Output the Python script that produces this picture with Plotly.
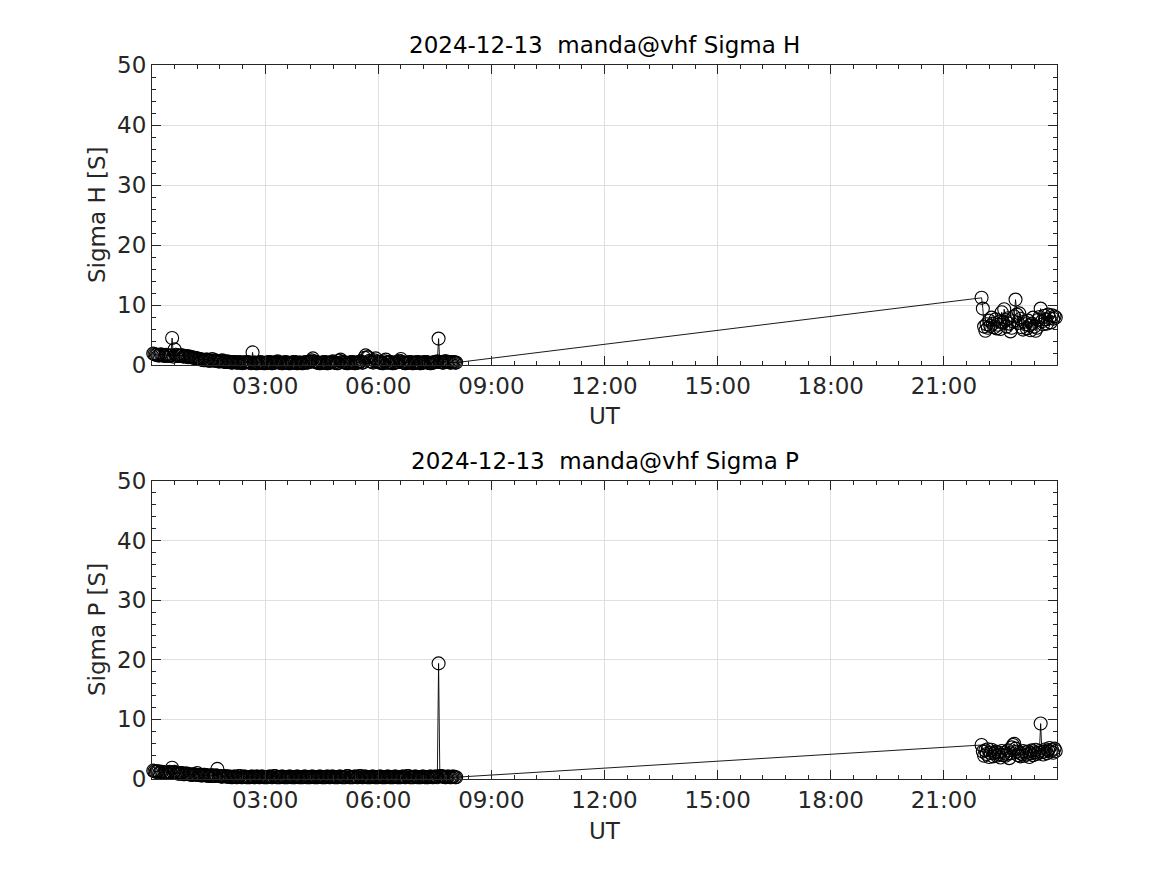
import plotly.graph_objects as go

DAY = "2024-12-13"
NEXT_DAY = "2024-12-14"

# sample times, minutes after 00:00 UT
morning_minutes = [
    2, 4, 6, 8, 10, 12, 14, 16, 18, 20,
    22, 24, 26, 28, 30, 32, 34, 36, 38, 40,
    42, 44, 46, 48, 50, 52, 54, 56, 58, 60,
    62, 64, 66, 68, 70, 72, 74, 76, 78, 80,
    82, 84, 86, 88, 90, 92, 94, 96, 98, 100,
    102, 104, 106, 108, 110, 112, 114, 116, 118, 120,
    122, 124, 126, 128, 130, 132, 134, 136, 138, 140,
    142, 144, 146, 148, 150, 152, 154, 156, 158, 160,
    162, 164, 166, 168, 170, 172, 174, 176, 178, 180,
    182, 184, 186, 188, 190, 192, 194, 196, 198, 200,
    202, 204, 206, 208, 210, 212, 214, 216, 218, 220,
    222, 224, 226, 228, 230, 232, 234, 236, 238, 240,
    242, 244, 246, 248, 250, 252, 254, 256, 258, 260,
    262, 264, 266, 268, 270, 272, 274, 276, 278, 280,
    282, 284, 286, 288, 290, 292, 294, 296, 298, 300,
    302, 304, 306, 308, 310, 312, 314, 316, 318, 320,
    322, 324, 326, 328, 330, 332, 334, 336, 338, 340,
    342, 344, 346, 348, 350, 352, 354, 356, 358, 360,
    362, 364, 366, 368, 370, 372, 374, 376, 378, 380,
    382, 384, 386, 388, 390, 392, 394, 396, 398, 400,
    402, 404, 406, 408, 410, 412, 414, 416, 418, 420,
    422, 424, 426, 428, 430, 432, 434, 436, 438, 440,
    442, 444, 446, 448, 450, 452, 454, 456, 458, 460,
    462, 464, 466, 468, 470, 472, 474, 476, 478, 480,
    482, 484,
]

evening_minutes = [
    1320, 1322, 1324, 1326, 1328, 1330, 1332, 1334, 1336, 1338,
    1340, 1342, 1344, 1346, 1348, 1350, 1352, 1354, 1356, 1358,
    1360, 1362, 1364, 1366, 1368, 1370, 1372, 1374, 1376, 1378,
    1380, 1382, 1384, 1386, 1388, 1390, 1392, 1394, 1396, 1398,
    1400, 1402, 1404, 1406, 1408, 1410, 1412, 1414, 1416, 1418,
    1420, 1422, 1424, 1426, 1428, 1430, 1432, 1434, 1436, 1438,
]

sigma_h_morning = [
    1.9, 1.8, 1.7, 1.7, 1.6, 1.6, 1.8, 1.7, 1.6, 1.5,
    1.7, 1.6, 1.5, 1.5, 1.6, 4.5, 1.4, 2.6, 1.7, 1.6,
    1.5, 1.5, 1.6, 1.6, 1.4, 1.5, 1.4, 1.5, 1.3, 1.4,
    1.3, 1.3, 1.2, 1.2, 1.1, 1.1, 1.0, 1.0, 0.9, 0.9,
    0.8, 0.8, 0.9, 0.9, 0.7, 0.7, 0.8, 1.0, 0.7, 0.8,
    0.7, 0.7, 0.6, 0.6, 0.7, 0.8, 0.6, 0.5, 0.5, 0.6,
    0.5, 0.5, 0.4, 0.4, 0.5, 0.5, 0.4, 0.4, 0.4, 0.5,
    0.4, 0.3, 0.4, 0.4, 0.5, 0.5, 0.4, 0.4, 0.3, 2.1,
    0.4, 0.4, 0.3, 0.3, 0.4, 0.5, 0.4, 0.4, 0.3, 0.3,
    0.4, 0.4, 0.5, 0.5, 0.3, 0.3, 0.4, 0.4, 0.5, 0.6,
    0.4, 0.4, 0.3, 0.3, 0.4, 0.5, 0.4, 0.4, 0.3, 0.3,
    0.4, 0.4, 0.5, 0.5, 0.3, 0.3, 0.4, 0.4, 0.3, 0.3,
    0.4, 0.5, 0.4, 0.4, 0.5, 0.6, 0.8, 1.1, 0.6, 0.5,
    0.4, 0.4, 0.3, 0.3, 0.4, 0.4, 0.5, 0.5, 0.3, 0.3,
    0.4, 0.4, 0.5, 0.6, 0.4, 0.4, 0.3, 0.3, 0.7, 0.9,
    0.5, 0.5, 0.4, 0.4, 0.3, 0.3, 0.4, 0.4, 0.5, 0.5,
    0.3, 0.3, 0.4, 0.4, 0.5, 0.6, 0.4, 0.4, 1.2, 1.6,
    1.3, 1.3, 0.7, 0.6, 0.5, 0.4, 0.8, 1.1, 0.6, 0.5,
    0.4, 0.4, 0.3, 0.3, 0.6, 0.9, 0.4, 0.4, 0.5, 0.5,
    0.3, 0.3, 0.4, 0.4, 0.5, 0.5, 0.7, 1.0, 0.5, 0.4,
    0.3, 0.3, 0.4, 0.4, 0.5, 0.5, 0.3, 0.3, 0.4, 0.4,
    0.5, 0.5, 0.3, 0.3, 0.4, 0.4, 0.5, 0.5, 0.4, 0.4,
    0.3, 0.3, 0.4, 0.4, 0.5, 0.5, 0.6, 4.4, 0.5, 0.5,
    0.4, 0.4, 0.6, 0.6, 0.5, 0.5, 0.4, 0.4, 0.5, 0.5,
    0.4, 0.4,
]

sigma_h_evening = [
    11.2, 9.4, 6.4, 5.7, 6.8, 6.2, 7.4, 6.5, 7.9, 6.9,
    6.3, 7.6, 6.1, 6.7, 7.2, 6.0, 8.8, 7.1, 9.3, 7.5,
    6.4, 7.8, 6.9, 5.6, 6.2, 7.3, 8.1, 10.9, 8.4, 7.0,
    8.6, 7.7, 6.3, 5.9, 7.2, 6.8, 6.1, 7.4, 6.6, 5.8,
    6.9, 7.9, 6.4, 5.7, 6.2, 7.5, 8.0, 9.4, 7.3, 6.8,
    8.2, 7.6, 6.9, 8.4, 7.8, 7.1, 8.3, 7.7, 8.1, 7.9,
]

sigma_p_morning = [
    1.4, 1.3, 1.2, 1.3, 1.3, 1.1, 1.2, 1.2, 1.0, 1.1,
    1.1, 1.0, 1.1, 1.2, 1.0, 1.9, 1.1, 1.2, 1.0, 1.0,
    0.9, 0.9, 1.0, 1.0, 0.8, 0.8, 0.9, 0.9, 0.8, 0.8,
    0.7, 0.7, 0.8, 0.8, 0.7, 1.0, 0.7, 0.7, 0.6, 0.6,
    0.7, 0.7, 0.6, 0.6, 0.5, 0.5, 0.6, 0.6, 0.5, 0.5,
    0.6, 1.7, 0.5, 0.5, 0.4, 0.4, 0.5, 0.5, 0.4, 0.4,
    0.4, 0.4, 0.3, 0.3, 0.4, 0.4, 0.3, 0.3, 0.5, 0.5,
    0.3, 0.3, 0.4, 0.4, 0.3, 0.3, 0.3, 0.3, 0.4, 0.4,
    0.3, 0.3, 0.4, 0.4, 0.3, 0.3, 0.4, 0.4, 0.3, 0.3,
    0.3, 0.3, 0.4, 0.4, 0.3, 0.3, 0.5, 0.5, 0.3, 0.3,
    0.3, 0.3, 0.4, 0.4, 0.3, 0.3, 0.3, 0.3, 0.4, 0.4,
    0.3, 0.3, 0.3, 0.3, 0.4, 0.4, 0.3, 0.3, 0.3, 0.3,
    0.4, 0.4, 0.3, 0.3, 0.3, 0.3, 0.4, 0.4, 0.3, 0.3,
    0.3, 0.3, 0.4, 0.4, 0.3, 0.3, 0.3, 0.3, 0.4, 0.4,
    0.3, 0.3, 0.4, 0.4, 0.3, 0.3, 0.3, 0.3, 0.4, 0.4,
    0.3, 0.3, 0.3, 0.3, 0.5, 0.5, 0.3, 0.3, 0.3, 0.3,
    0.4, 0.4, 0.3, 0.3, 0.5, 0.5, 0.3, 0.3, 0.4, 0.4,
    0.3, 0.3, 0.3, 0.3, 0.4, 0.4, 0.3, 0.3, 0.3, 0.3,
    0.4, 0.4, 0.3, 0.3, 0.3, 0.3, 0.4, 0.4, 0.3, 0.3,
    0.3, 0.3, 0.4, 0.4, 0.3, 0.3, 0.3, 0.3, 0.4, 0.4,
    0.3, 0.3, 0.5, 0.5, 0.3, 0.3, 0.3, 0.3, 0.4, 0.4,
    0.3, 0.3, 0.3, 0.3, 0.4, 0.4, 0.3, 0.3, 0.3, 0.3,
    0.4, 0.4, 0.3, 0.3, 0.4, 0.4, 0.3, 19.4, 0.5, 0.5,
    0.4, 0.4, 0.3, 0.3, 0.4, 0.4, 0.3, 0.3, 0.4, 0.4,
    0.3, 0.3,
]

sigma_p_evening = [
    5.7, 4.6, 3.9, 4.8, 4.2, 5.0, 3.7, 4.4, 4.9, 3.8,
    4.3, 4.6, 3.9, 4.5, 4.1, 3.6, 4.7, 4.0, 4.4, 3.9,
    4.2, 4.8, 3.5, 4.3, 5.3, 5.7, 5.9, 5.1, 4.6, 4.0,
    4.4, 3.8, 4.2, 4.7, 3.9, 4.5, 4.1, 4.6, 3.7, 4.3,
    4.8, 4.0, 4.5, 4.9, 4.2, 4.4, 4.7, 9.3, 4.5, 4.1,
    4.6, 5.0, 4.3, 4.8, 5.2, 4.6, 4.9, 4.4, 5.1, 4.7,
]

x_tick_labels = ["03:00", "06:00", "09:00", "12:00", "15:00", "18:00", "21:00"]
y_ticks = [0, 10, 20, 30, 40, 50]

titles = ["2024-12-13\u00a0 manda@vhf Sigma H", "2024-12-13\u00a0 manda@vhf Sigma P"]
y_titles = ["Sigma H [S]", "Sigma P [S]"]
x_title = "UT"

assert len(morning_minutes) == len(sigma_h_morning) == len(sigma_p_morning)
assert len(evening_minutes) == len(sigma_h_evening) == len(sigma_p_evening)

times = [f"{DAY} {m // 60:02d}:{m % 60:02d}" for m in morning_minutes + evening_minutes]
series = [sigma_h_morning + sigma_h_evening, sigma_p_morning + sigma_p_evening]

FONT = "DejaVu Sans"
FS = 23
AX = "#262626"

fig = go.Figure()
for i, vals in enumerate(series):
    fig.add_trace(go.Scatter(
        x=times, y=vals, mode="lines+markers",
        xaxis="x" if i == 0 else "x2", yaxis="y" if i == 0 else "y2",
        line=dict(color="black", width=0.9),
        marker=dict(symbol="circle-open", size=13, color="black", line=dict(width=1.1)),
        cliponaxis=False,
        showlegend=False, hoverinfo="x+y",
    ))

OFF = 8  # page body margin
W, H = 1167 - OFF, 875 - OFF
ML, MT = 152 - OFF, 65 - OFF
PW, PH = 905, 714
MR, MB = W - ML - PW, H - MT - PH


def py(px):
    # screen pixel (reference) -> paper y
    return (MT + PH - (px - OFF)) / PH


def px_x(px):
    return ((px - OFF) - ML) / PW


xcommon = dict(
    type="date",
    range=[f"{DAY} 00:00", f"{NEXT_DAY} 00:00"],
    tickvals=[f"{DAY} {t}" for t in x_tick_labels],
    ticktext=x_tick_labels,
    ticks="inside", ticklen=9, tickwidth=1, tickcolor=AX,
    showline=True, linecolor=AX, linewidth=1, mirror="ticks",
    showgrid=True, gridcolor="#dfdfdf", gridwidth=1,
    zeroline=False,
    tickfont=dict(family=FONT, size=FS, color=AX),
    minor=dict(dtick=36 * 60 * 1000, tick0=f"{DAY} 00:00", ticks="inside",
               ticklen=4, tickcolor=AX, showgrid=False),
)
ycommon = dict(
    range=[0, 50], tickvals=y_ticks,
    ticks="inside", ticklen=9, tickwidth=1, tickcolor=AX,
    showline=True, linecolor=AX, linewidth=1, mirror="ticks",
    showgrid=True, gridcolor="#dfdfdf", gridwidth=1,
    zeroline=False,
    tickfont=dict(family=FONT, size=FS, color=AX),
    minor=dict(dtick=2, ticks="inside", ticklen=4, tickcolor=AX, showgrid=False),
)

top_dom = [py(365), 1.0]
bot_dom = [0.0, py(481)]

fig.update_layout(
    width=W, height=H,
    margin=dict(l=ML, r=MR, t=MT, b=MB, autoexpand=False),
    paper_bgcolor="white", plot_bgcolor="white",
    xaxis=dict(xcommon, domain=[0, 1], anchor="y"),
    yaxis=dict(ycommon, domain=top_dom, anchor="x"),
    xaxis2=dict(xcommon, domain=[0, 1], anchor="y2"),
    yaxis2=dict(ycommon, domain=bot_dom, anchor="x2"),
    font=dict(family=FONT, size=FS, color=AX),
)

annos = [
    dict(text=titles[0], x=0.5, y=py(45), color="black"),
    dict(text=titles[1], x=0.5, y=py(461), color="black"),
    dict(text=x_title, x=0.5, y=py(416), color=AX),
    dict(text=x_title, x=0.5, y=py(831), color=AX),
    dict(text=y_titles[0], x=px_x(97), y=py(215), color=AX, angle=-90),
    dict(text=y_titles[1], x=px_x(97), y=py(630), color=AX, angle=-90),
]
for a in annos:
    fig.add_annotation(
        text=a["text"], x=a["x"], y=a["y"], xref="paper", yref="paper",
        xanchor="center", yanchor="middle", showarrow=False,
        textangle=a.get("angle", 0),
        font=dict(family=FONT, size=FS, color=a["color"]),
    )

fig.write_html("out.html")
